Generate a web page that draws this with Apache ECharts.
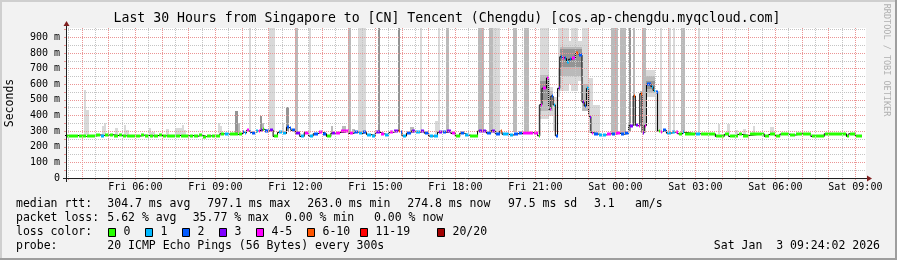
<!DOCTYPE html>
<html><head><meta charset="utf-8">
<script src="https://cdn.jsdelivr.net/npm/echarts@6/dist/echarts.min.js"></script>
<style>html,body{margin:0;padding:0;background:#f2f2f2}#c{width:897px;height:260px}</style>
</head><body><div id="c"></div>
<script>
// Time unit: minutes since Fri 00:00 (Sat 00:00 = 1440)
const axisStart = 204;   // Fri 03:24
const axisEnd = 2004;    // Sat 09:24
const dataEnd = 1995;    // last sample end

const xLabelTimes = [360, 540, 720, 900, 1080, 1260, 1440, 1620, 1800, 1980];
const xLabelText = ['Fri 06:00','Fri 09:00','Fri 12:00','Fri 15:00','Fri 18:00','Fri 21:00','Sat 00:00','Sat 03:00','Sat 06:00','Sat 09:00'];
const yLabelValues = [0,100,200,300,400,500,600,700,800,900];

// median rtt runs (start minute, median ms, loss class)
const segT = [200,230,250,270,280,290,300,310,320,330,340,360,370,380,390,400,410,420,430,450,460,480,490,500,510,520,530,540,550,560,570,590,
  600,605,610,615,620,630,635,640,645,650,660,670,680,690,700,705,710,720,730,740,750,760,770,780,790,800,810,820,840,850,860,870,880,890,
  900,910,920,930,940,950,955,960,970,980,990,1000,1010,1020,1030,1040,1050,1060,1070,1080,1090,1100,1110,1130,1140,1150,1160,1170,1180,1185,
  1200,1210,1220,1230,1255,1265,1270,1275,1285,1290,1295,1300,1305,1310,1315,1320,1325,1330,1335,1340,1350,1355,1365,1370,1375,1380,1385,1390,
  1400,1410,1420,1430,1440,1450,1460,1470,1480,1485,1490,1495,1500,1505,1510,1520,1525,1530,1535,1540,1545,1555,1565,1575,1580,1590,1595,
  1620,1630,1665,1685,1695,1715,1725,1740,1775,1785,1800,1810,1830,1845,1860,1880,1910,1960,1965,1980];
const segV = [272,266,267,276,272,275,277,272,274,270,267,268,274,272,270,271,273,270,267,272,270,272,266,276,265,270,267,270,283,281,279,282,
  293,288,305,293,290,298,303,306,312,300,306,266,292,285,325,318,305,287,266,290,268,283,295,284,266,287,290,300,285,297,285,292,278,272,
  293,283,275,292,302,300,293,268,287,300,293,300,287,268,272,293,293,298,285,266,287,275,266,300,302,287,302,283,300,280,
  275,283,285,290,290,270,470,575,640,440,525,468,270,574,776,770,765,744,760,768,797,787,485,461,574,393,290,282,
  278,276,283,280,287,280,287,335,525,338,330,540,290,335,600,585,560,550,300,295,305,287,293,297,283,293,283,
  283,283,266,279,266,279,272,283,266,279,266,281,275,283,279,266,283,266,283,270];
const segL = [0,0,0,0,1,0,0,0,0,0,0,0,0,0,0,0,0,0,0,0,0,0,0,0,0,0,0,0,0,1,0,0,
  2,1,4,2,2,1,4,3,0,2,3,0,1,1,2,2,2,3,1,4,1,2,4,2,0,3,4,4,4,2,1,2,1,1,
  3,4,1,4,3,5,2,1,2,3,1,3,2,1,1,3,2,3,4,0,2,1,0,3,3,2,3,2,5,1,
  1,2,2,4,4,0,4,4,4,4,2,1,2,3,2,4,2,1,2,4,5,2,3,2,1,3,4,2,
  1,1,4,2,4,2,2,3,5,3,4,5,3,4,2,1,1,2,0,4,2,1,1,4,0,1,0,
  1,0,0,0,0,0,0,0,0,0,0,0,0,0,0,0,0,0,0,0];

// smoke (start minute, width minutes, low ms, high ms, shade)
const smokeT  = [245,250,285,290,315,335,340,390,395,430,450,465,470,545,550,585,590,615,640,645,660,690,700,720,750,800,825,838,847,860,905,950,978,1000,1035,1040,1060,1130,1155,1165,1210,1235,
  1265,1270,1290,1300,1310,1315,1335,1340,1355,1365,1380,1390,1270,1290,1310,1315,1365,1270,1315,
  1430,1450,1470,1480,1495,1500,1510,1510,1510,1530,1540,1558,1570,1588,1625,1670,1692,1710,1728,1750,1788];
const smokeW  = [5,5,5,5,5,5,5,5,10,5,15,5,5,5,5,5,5,5,5,5,15,5,5,5,5,5,10,7,8,20,5,5,10,5,7,5,5,15,10,15,8,10,
  5,20,10,10,5,20,5,15,10,15,10,15,20,10,5,50,15,20,50,
  15,15,5,5,5,10,20,20,20,15,5,8,5,9,5,5,5,5,5,5,8];
const smokeLo = [275,275,275,275,275,275,275,275,275,275,275,275,275,285,285,285,285,295,300,300,295,285,300,290,285,285,290,290,290,285,290,295,285,290,280,285,290,295,295,290,295,290,
  280,380,400,300,520,560,600,560,620,430,290,290,430,430,560,650,430,500,710,
  285,285,300,330,330,290,520,545,570,300,285,285,285,285,280,280,280,280,280,280,280];
const smokeHi = [565,435,330,350,320,340,305,320,295,315,320,340,310,355,330,430,355,1000,400,350,1000,355,455,1000,1000,330,335,1000,315,1000,1000,1000,325,1000,368,1000,1000,1000,1000,1000,1000,1000,
  470,1000,580,520,1000,1000,880,1000,880,1000,640,470,660,560,700,840,600,620,825,
  1000,1000,1000,1000,560,1000,690,650,620,560,1000,1000,1000,1000,1000,345,345,310,315,336,325];
const smokeShade = [0,0,0,0,0,0,0,0,0,0,0,0,0,0,0,2,1,0,2,1,0,0,2,1,0,1,1,1,1,0,2,2,1,0,0,0,1,1,1,0,1,1,
  0,0,0,0,0,0,0,0,0,0,0,0,1,1,1,1,1,2,2,
  1,1,2,1,1,1,0,1,2,0,0,0,0,1,0,0,0,0,0,0,0];

const shadeColors = ['#d9d9d9', '#bababa', '#949494'];
const lossColors = ['#26ff00','#00b8ff','#0059ff','#7e00ff','#ff00ff','#ff5500','#ff0000','#a10000'];
const lossLabels = ['0','1','2','3','4-5','6-10','11-19','20/20'];

const halfHours = [];
for (let t = 210; t < axisEnd; t += 30) halfHours.push(t);
const yTicks = [];
for (let v = 0; v < 960; v += 50) yTicks.push(v);

const FONT = '"DejaVu Sans Mono", monospace';
const chart = echarts.init(document.getElementById('c'), null, {renderer: 'canvas'});

const smokeData = smokeT.map((t, i) => [t, smokeW[i], smokeLo[i], smokeHi[i], smokeShade[i]]);
const segData = segT.map((t, i) => [t, i + 1 < segT.length ? segT[i + 1] : dataEnd, segV[i], segL[i]]);
const lineData = segT.map((t, i) => [t, segV[i]]).concat([[dataEnd, segV[segV.length - 1]]]);

function clipRect(r, cs) {
  return echarts.graphic.clipRectByRect(r, {x: cs.x, y: cs.y, width: cs.width, height: cs.height});
}

// legend / footer graphics
const rowY = [204.5, 218.5, 232.5, 246.5];
const txt = (x, y, s, align) => ({type: 'text', x: x, y: y, silent: true, z: 100,
  style: {text: s, font: '11.5px ' + FONT, fill: '#000', textVerticalAlign: 'middle', textAlign: align || 'left'}});
const g = [
  // 3D frame (shade A top/left, shade B bottom/right)
  {type: 'rect', z: 100, shape: {x: 0, y: 0, width: 897, height: 2}, style: {fill: '#cfcfcf'}},
  {type: 'rect', z: 100, shape: {x: 0, y: 0, width: 2, height: 260}, style: {fill: '#cfcfcf'}},
  {type: 'rect', z: 100, shape: {x: 0, y: 258, width: 897, height: 2}, style: {fill: '#9e9e9e'}},
  {type: 'rect', z: 100, shape: {x: 895, y: 0, width: 2, height: 260}, style: {fill: '#9e9e9e'}},
  {type: 'text', z: 100, x: 447, y: 19, style: {text: 'Last 30 Hours from Singapore to [CN] Tencent (Chengdu) [cos.ap-chengdu.myqcloud.com]', font: '13.2px ' + FONT, fill: '#000', textAlign: 'center', textVerticalAlign: 'middle'}},
  {type: 'text', z: 100, x: 10.5, y: 103, rotation: Math.PI / 2, style: {text: 'Seconds', font: '11.5px ' + FONT, fill: '#000', textAlign: 'center', textVerticalAlign: 'middle'}},
  {type: 'text', z: 100, x: 886, y: 60, rotation: -Math.PI / 2, style: {text: 'RRDTOOL / TOBI OETIKER', font: '8.5px ' + FONT, fill: '#b0b0b0', textAlign: 'center', textVerticalAlign: 'middle'}},
  {type: 'line', z: 100, shape: {x1: 66.5, y1: 25, x2: 66.5, y2: 182}, style: {stroke: '#1f1f1f', lineWidth: 1}},
  {type: 'line', z: 100, shape: {x1: 63, y1: 178.5, x2: 868, y2: 178.5}, style: {stroke: '#1f1f1f', lineWidth: 1}},
  {type: 'polygon', z: 101, shape: {points: [[63.5, 26], [69.5, 26], [66.5, 21]]}, style: {fill: '#801f1f'}},
  {type: 'polygon', z: 101, shape: {points: [[867, 175.5], [867, 181.5], [872, 178.5]]}, style: {fill: '#801f1f'}},
  txt(16, rowY[0], 'median rtt:'), txt(107.3, rowY[0], '304.7 ms avg'), txt(207.3, rowY[0], '797.1 ms max'),
  txt(307.3, rowY[0], '263.0 ms min'), txt(407.3, rowY[0], '274.8 ms now'), txt(508, rowY[0], '97.5 ms sd'),
  txt(594, rowY[0], '3.1'), txt(635, rowY[0], 'am/s'),
  txt(16, rowY[1], 'packet loss:'), txt(107.3, rowY[1], '5.62 % avg'), txt(192.7, rowY[1], '35.77 % max'),
  txt(285, rowY[1], '0.00 % min'), txt(374, rowY[1], '0.00 % now'),
  txt(16, rowY[2], 'loss color:'),
  txt(16, rowY[3], 'probe:'), txt(107.3, rowY[3], '20 ICMP Echo Pings (56 Bytes) every 300s'),
  txt(880, rowY[3], 'Sat Jan  3 09:24:02 2026', 'right')
];
const boxX = [108.5, 145.5, 182.5, 219.5, 256.5, 307.5, 360.5, 437.5];
lossLabels.forEach((lab, i) => {
  g.push({type: 'rect', z: 100, shape: {x: boxX[i], y: 228.5, width: 7, height: 8}, style: {fill: lossColors[i], stroke: '#000', lineWidth: 1}});
  g.push(txt(boxX[i] + 15, rowY[2], lab));
});

const option = {
  animation: false,
  backgroundColor: '#f2f2f2',
  grid: {left: 66, right: 31, top: 28, bottom: 82, show: true, backgroundColor: '#ffffff', borderWidth: 0},
  xAxis: {
    type: 'value', min: axisStart, max: axisEnd, z: 5,
    axisLine: {show: false},
    axisTick: {show: true, customValues: halfHours, length: 2, lineStyle: {color: '#eb9595'}},
    axisLabel: {customValues: xLabelTimes, fontFamily: FONT, fontSize: 10, color: '#000', margin: 4,
      formatter: v => xLabelText[xLabelTimes.indexOf(v)] || ''},
    splitLine: {show: true, lineStyle: {color: ['#c4c4c4', '#eb9595'], type: [1, 1], width: 1}}
  },
  yAxis: {
    type: 'value', min: 0, max: 960, z: 5,
    axisLine: {show: false},
    axisTick: {show: true, customValues: yTicks, length: 2, lineStyle: {color: '#eb9595'}},
    axisLabel: {customValues: yLabelValues, fontFamily: FONT, fontSize: 10, color: '#000', margin: 6,
      formatter: v => v === 0 ? '0' : v + ' m'},
    splitLine: {show: true, lineStyle: {color: ['#eb9595', '#c4c4c4'], type: [1, 1], width: 1}}
  },
  series: [
    {
      type: 'custom', z: 1, clip: true, data: smokeData, encode: {x: 0, y: [2, 3]},
      renderItem: (params, api) => {
        const t = api.value(0), w = api.value(1), lo = api.value(2), hi = api.value(3), s = api.value(4);
        const p1 = api.coord([t, hi]), p2 = api.coord([t + w, lo]);
        const x1 = Math.round(p1[0]), x2 = Math.max(Math.round(p2[0]), x1 + 1);
        const r = clipRect({x: x1, y: Math.round(p1[1]), width: x2 - x1, height: Math.round(p2[1]) - Math.round(p1[1])}, params.coordSys);
        return r && {type: 'rect', shape: r, style: {fill: shadeColors[s]}};
      }
    },
    {
      type: 'line', z: 2, step: 'end', data: lineData, symbol: 'none', silent: true,
      lineStyle: {color: '#000', width: 1}
    },
    {
      type: 'custom', z: 3, clip: true, data: segData, encode: {x: [0, 1], y: 2},
      renderItem: (params, api) => {
        const t0 = api.value(0), t1 = api.value(1), v = api.value(2), l = api.value(3);
        const p1 = api.coord([t0, v]), p2 = api.coord([t1, v]);
        const x1 = Math.round(p1[0]) + 1, x2 = Math.round(p2[0]);
        if (x2 <= x1) return null;
        const r = clipRect({x: x1, y: Math.round(p1[1]) - 1.5, width: x2 - x1, height: 3}, params.coordSys);
        return r && {type: 'rect', shape: r, style: {fill: lossColors[l]}};
      }
    }
  ],
  graphic: g
};
chart.setOption(option);
</script>
</body></html>
